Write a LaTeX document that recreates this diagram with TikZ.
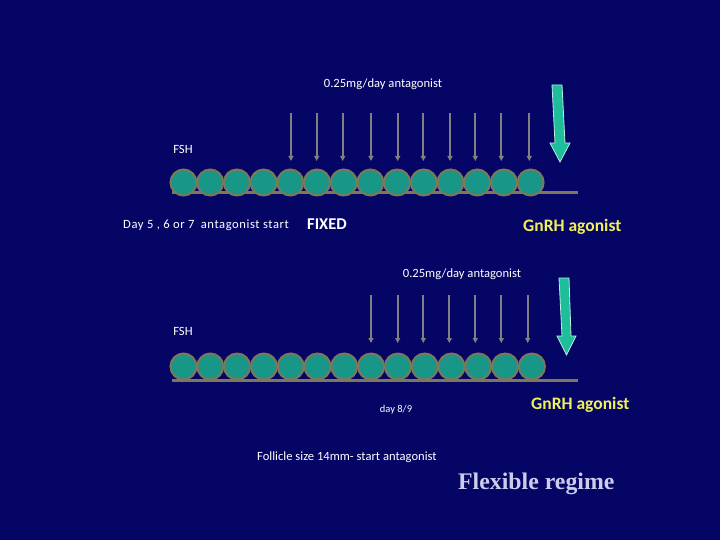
\documentclass[tikz,border=0pt]{standalone}
\usepackage{fontspec}
\setmainfont{Carlito}
\newfontfamily\serifrm{Liberation Serif}
\newfontfamily\widelbl[LetterSpace=4.5]{Carlito}
\usetikzlibrary{arrows.meta}
\definecolor{bg}{RGB}{5,5,102}
\definecolor{foll}{RGB}{24,150,136}
\definecolor{follrim}{RGB}{125,120,90}
\definecolor{greenarr}{RGB}{30,190,155}
\definecolor{yel}{RGB}{240,240,90}
\definecolor{lav}{RGB}{205,205,235}
\definecolor{arrgray}{RGB}{128,128,128}
\tikzset{
  follicle/.style={circle,draw=follrim,line width=2pt,fill=foll,minimum size=26pt,inner sep=0pt},
  baseline/.style={draw=follrim,line width=2.5pt},
  grayarr/.style={draw=arrgray,line width=2pt,-{Triangle[length=5pt,width=5pt]}},
  lbl/.style={text=white,font=\fontsize{12.6}{14}\selectfont,inner sep=0pt},
  ylbl/.style={text=yel,font=\bfseries\fontsize{17.5}{20}\selectfont,inner sep=0pt},
}
\begin{document}
\begin{tikzpicture}[x=1pt,y=-1pt]
\fill[bg] (0,0) rectangle (720,540);
\useasboundingbox (0,0) rectangle (720,540);
% ---- top row ----
\coordinate (b1s) at (172,192.5);
\coordinate (b1e) at (578,192.5);
\draw[baseline] (b1s) -- (b1e);
\foreach \i in {0,...,13} {
  \node[follicle] (t\i) at ({183.5+\i*26.7},182.5) {};
}
\node[lbl] (ant1) at (383,84) {0.25mg/day antagonist};
\node[lbl] (fsh1) at (183,149) {FSH};
\foreach \x [count=\k] in {291,316.7,342.7,371,397.7,423.3,450,475.3,501.3,529.3} {
  \coordinate (ta\k) at (\x,113);
  \coordinate (tb\k) at (\x,161);
  \draw[grayarr] (ta\k) -- (tb\k);
}
\draw[draw=white!70!greenarr,fill=greenarr,line width=0.8pt]
  (552,85) -- (562,85) -- (565,143) -- (570,143) -- (560,162) -- (550,143) -- (555,143) -- cycle;
\node[lbl,font=\widelbl\fontsize{12.6}{14}\selectfont,anchor=west] (day567) at (123,225) {Day 5 , 6 or 7\enspace antagonist start};
\node[text=white,font=\bfseries\fontsize{16.5}{18}\selectfont,inner sep=0pt,anchor=west] (fixed) at (307,224.5) {FIXED};
\node[ylbl,anchor=west] (gn1) at (523,226.5) {GnRH agonist};
% ---- bottom row ----
\coordinate (b2s) at (172,380.5);
\coordinate (b2e) at (578,380.5);
\draw[baseline] (b2s) -- (b2e);
\foreach \i in {0,...,13} {
  \node[follicle] (u\i) at ({183.5+\i*26.8},366.5) {};
}
\node[lbl] (ant2) at (462,274) {0.25mg/day antagonist};
\node[lbl] (fsh2) at (183,331) {FSH};
\foreach \x [count=\k] in {371,397.7,423.3,449.3,475.3,501.3,527.7} {
  \coordinate (ua\k) at (\x,295);
  \coordinate (ub\k) at (\x,343);
  \draw[grayarr] (ua\k) -- (ub\k);
}
\draw[draw=white!70!greenarr,fill=greenarr,line width=0.8pt]
  (559,278) -- (569,278) -- (571,336) -- (576,336) -- (566.5,355) -- (557,336) -- (562,336) -- cycle;
\node[lbl,font=\fontsize{10.5}{12}\selectfont] (day89) at (396,410) {day 8/9};
\node[ylbl,anchor=west] (gn2) at (531,404.5) {GnRH agonist};
\node[lbl,anchor=west] (foll) at (257,457) {Follicle size 14mm- start antagonist};
\node[text=lav,font=\serifrm\bfseries\fontsize{23.8}{26}\selectfont,inner sep=0pt,anchor=west] (flex) at (458,484) {Flexible regime};
\end{tikzpicture}
\end{document}
